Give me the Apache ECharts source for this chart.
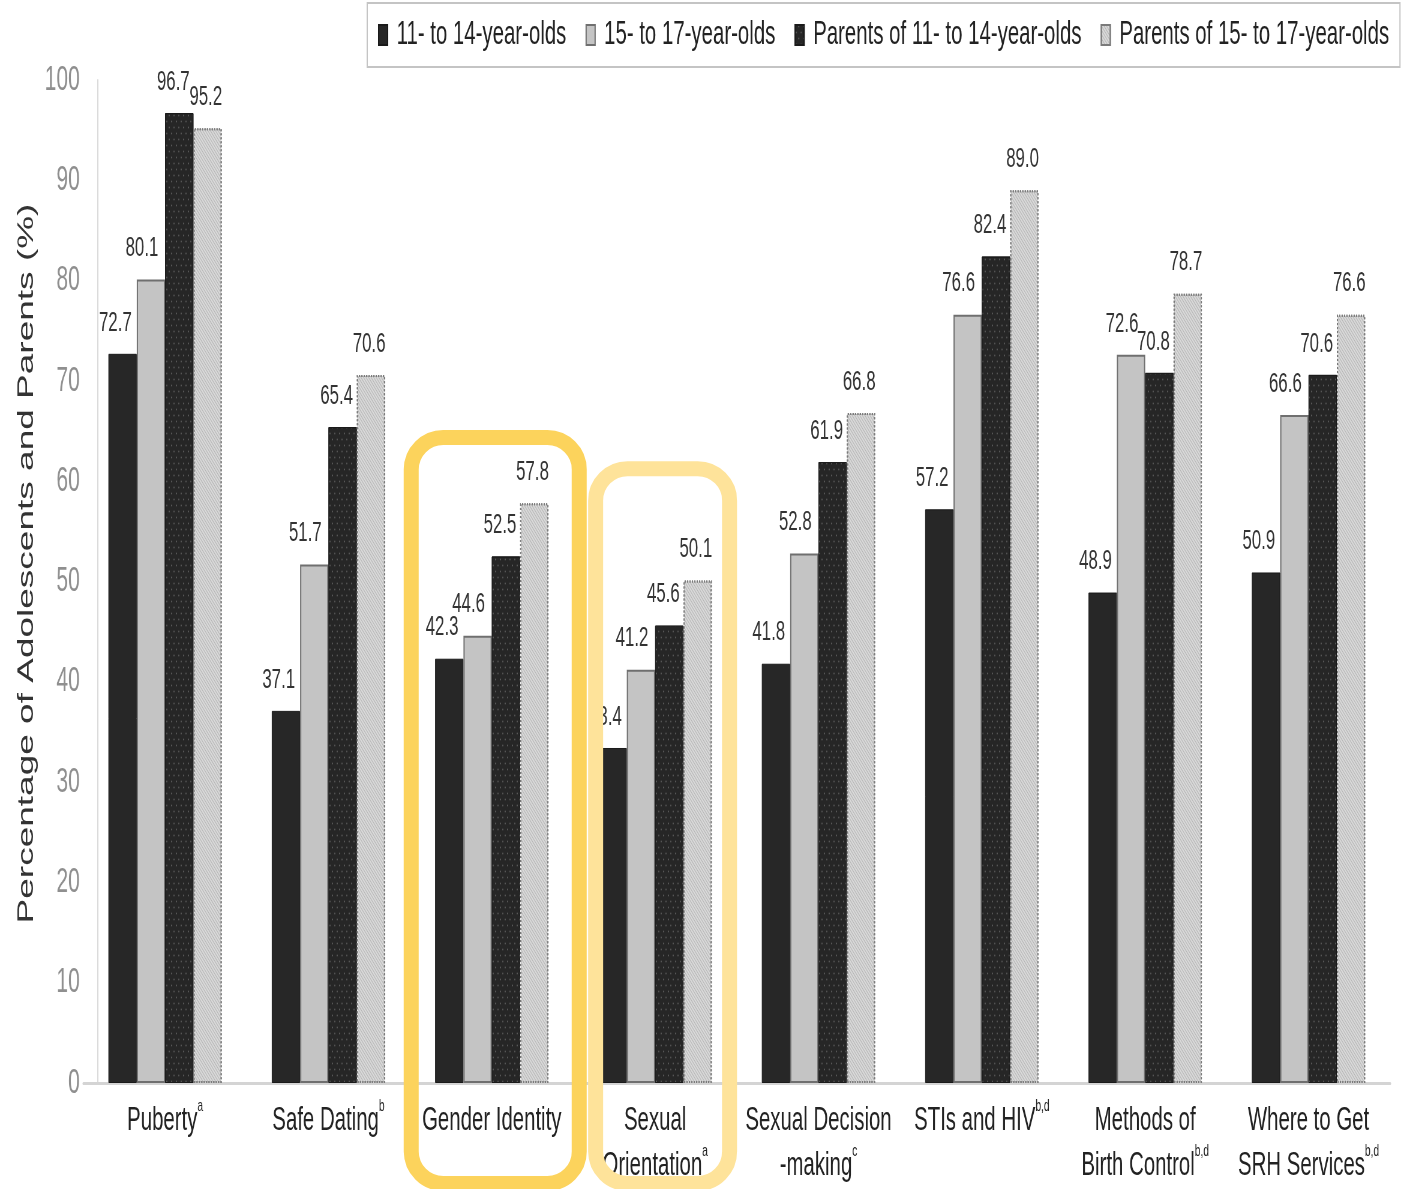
<!DOCTYPE html>
<html>
<head>
<meta charset="utf-8">
<script src="https://cdn.jsdelivr.net/npm/echarts@6/dist/echarts.min.js"></script>
<style>
  html, body { margin: 0; padding: 0; background: #fff; overflow: hidden; width: 1409px; height: 1189px; }
  /* the chart is laid out wide and condensed horizontally, giving tall, narrow lettering */
  #main { position: absolute; left: 0; top: 0; width: 2348px; height: 1189px; transform: scaleX(0.6); transform-origin: 0 0; }
  #ann { position: absolute; left: 0; top: 0; width: 1409px; height: 1189px; pointer-events: none; }
</style>
</head>
<body>
<div id="main"></div>
<div id="ann"></div>
<script>
// Topics surveyed
const categories = ['Puberty', 'Safe Dating', 'Gender Identity', 'Sexual Orientation',
  'Sexual Decision-making', 'STIs and HIV', 'Methods of Birth Control', 'Where to Get SRH Services'];
const categoryLines = ['Puberty', 'Safe Dating', 'Gender Identity', 'Sexual\nOrientation',
  'Sexual Decision\n-making', 'STIs and HIV', 'Methods of\nBirth Control', 'Where to Get\nSRH Services'];
const footnoteMarks = ['a', 'b', '', 'a', 'c', 'b,d', 'b,d', 'b,d'];

// Percentage of respondents per group
const seriesNames = ['11- to 14-year-olds', '15- to 17-year-olds',
  'Parents of 11- to 14-year-olds', 'Parents of 15- to 17-year-olds'];
const teens11to14   = [72.7, 37.1, 42.3, 33.4, 41.8, 57.2, 48.9, 50.9];
const teens15to17   = [80.1, 51.7, 44.6, 41.2, 52.8, 76.6, 72.6, 66.6];
const parents11to14 = [96.7, 65.4, 52.5, 45.6, 61.9, 82.4, 70.8, 70.6];
const parents15to17 = [95.2, 70.6, 57.8, 50.1, 66.8, 89.0, 78.7, 76.6];

// Topics outlined in yellow
const highlightedTopics = [2, 3];

const SX = 0.6; // horizontal condensing of the chart layer

const main = echarts.init(document.getElementById('main'));

const valueLabel = shiftX => ({
  show: true, position: 'top', distance: 17, offset: [shiftX, 0],
  fontFamily: 'Liberation Sans, Arial, sans-serif', fontSize: 28, color: '#333',
  formatter: p => p.value.toFixed(1)
});

main.setOption({
  animation: false,
  backgroundColor: '#fff',
  legend: {
    left: 612, top: 3,
    padding: [12, 18],
    borderColor: '#c4c4c4', borderWidth: 2,
    itemWidth: 15, itemHeight: 20, itemGap: 32,
    icon: 'rect',
    textStyle: { fontFamily: 'Liberation Sans, Arial, sans-serif', fontSize: 34, color: '#222', lineHeight: 40, padding: [0, 0, 0, 10] },
    data: seriesNames
  },
  grid: { left: 139, right: 31, top: 80, bottom: 106, containLabel: false },
  xAxis: {
    type: 'category',
    data: categories,
    axisLine: { show: true, lineStyle: { color: '#d4d4d4', width: 3 } },
    axisTick: { show: false },
    axisLabel: {
      interval: 0, margin: 15,
      fontFamily: 'Liberation Sans, Arial, sans-serif', fontSize: 34, color: '#222', lineHeight: 45,
      formatter: (v, i) => categoryLines[i] + (footnoteMarks[i] ? '{sup|' + footnoteMarks[i] + '}' : ''),
      rich: {
        sup: { fontFamily: 'Liberation Sans, Arial, sans-serif', fontSize: 17, color: '#222', verticalAlign: 'top', lineHeight: 28 }
      }
    }
  },
  yAxis: {
    type: 'value', min: 0, max: 100, interval: 10,
    offset: -24,
    axisLine: { show: true, lineStyle: { color: '#d9d9d9', width: 2 } },
    axisTick: { show: false },
    splitLine: { show: false },
    axisLabel: { margin: 30, fontFamily: 'Liberation Sans Narrow, Liberation Sans, Arial, sans-serif', fontSize: 35, color: '#8f8f8f' },
    name: 'Percentage of Adolescents and Parents (%)',
    nameLocation: 'middle', nameRotate: 90, nameGap: 100,
    nameTextStyle: { fontFamily: 'Liberation Sans, Arial, sans-serif', fontSize: 37, color: '#333', padding: [0, 0, 0, 36] }
  },
  series: [
    {
      name: seriesNames[0], type: 'bar', data: teens11to14,
      barGap: '0%', barCategoryGap: '30.6%',
      itemStyle: { color: '#272727', borderColor: '#1a1a1a', borderWidth: 1 },
      label: valueLabel(-12)
    },
    {
      name: seriesNames[1], type: 'bar', data: teens15to17,
      itemStyle: { color: '#c4c4c4', borderColor: '#6f6f6f', borderWidth: 2 },
      label: valueLabel(-15)
    },
    {
      name: seriesNames[2], type: 'bar', data: parents11to14,
      itemStyle: {
        color: '#262626', borderColor: '#1a1a1a', borderWidth: 1,
        decal: { symbol: 'circle', symbolSize: 0.7, color: 'rgba(130,130,130,0.55)', dashArrayX: [[4, 4], [0, 4, 4, 0]], dashArrayY: [3, 3], rotation: 0 }
      },
      label: valueLabel(-10)
    },
    {
      name: seriesNames[3], type: 'bar', data: parents15to17,
      itemStyle: {
        color: '#d9d9d9', borderColor: '#7a7a7a', borderWidth: 2, borderType: 'dotted',
        decal: { symbol: 'rect', symbolSize: 1, color: 'rgba(140,140,140,0.45)', dashArrayX: [1, 0], dashArrayY: [1, 2], rotation: Math.PI / 4 }
      },
      label: valueLabel(-3)
    }
  ]
});

// Yellow rounded outlines around the highlighted topics, drawn on an uncondensed layer
const ann = echarts.init(document.getElementById('ann'));
const outlineStyles = [
  { top: 65.1, dx: 3.5, half: 91.5, color: '#fcd35c' },
  { top: 62.0, dx: 7.5, half: 74.5, color: '#fee39a' }
];
const lw = 15;
const graphics = highlightedTopics.map((ci, k) => {
  const st = outlineStyles[k];
  const cx = main.convertToPixel({ xAxisIndex: 0 }, ci) * SX + st.dx;
  const topY = main.convertToPixel({ yAxisIndex: 0 }, st.top);
  const bottomY = 1191;
  return {
    type: 'rect',
    shape: { x: cx - st.half + lw / 2, y: topY + lw / 2, width: 2 * st.half - lw, height: bottomY - topY - lw, r: 32 },
    style: { fill: 'none', stroke: st.color, lineWidth: lw }
  };
});
ann.setOption({ animation: false, graphic: graphics });
</script>
</body>
</html>
